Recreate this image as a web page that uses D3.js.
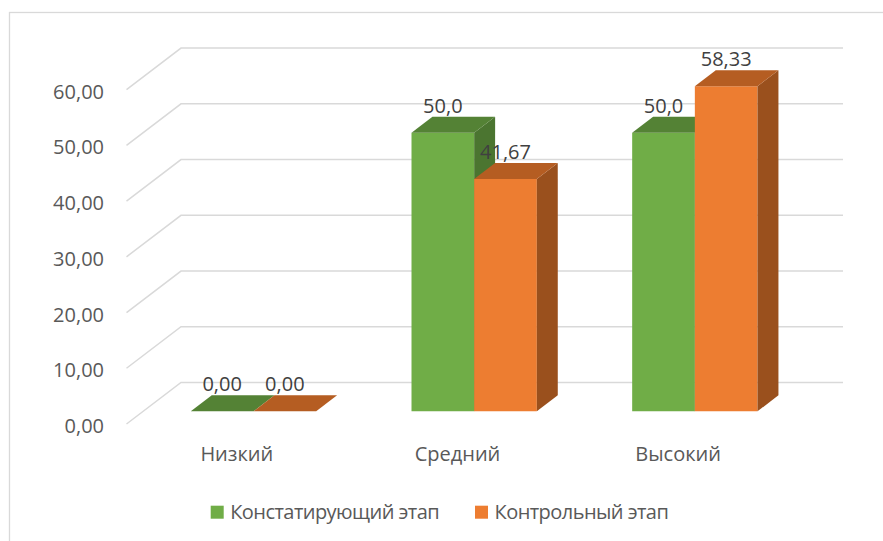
<!DOCTYPE html>
<html>
<head>
    <meta charset="utf-8">
    <title>Уровни по этапам</title>
    <script src="https://d3js.org/d3.v7.min.js"></script>
    <style>
        body { margin: 0; background: #fff; }
        text { font-family: "Open Sans", sans-serif; fill: #595959; }
    </style>
</head>
<body>
<svg id="chart" width="883" height="541"></svg>

<script>
    var categories = ["Низкий", "Средний", "Высокий"];
    var seriesNames = ["Констатирующий этап", "Контрольный этап"];
    var stage1 = [0, 50, 50];
    var stage2 = [0, 41.67, 58.33];
    var labels1 = ["0,00", "50,0", "50,0"];
    var labels2 = ["0,00", "41,67", "58,33"];
    var yTicks = [0, 10, 20, 30, 40, 50, 60];

    var colors = [
        { front: "#70ad47", top: "#548235", side: "#4b7530" },
        { front: "#ed7d31", top: "#b55d22", side: "#9a501d" }
    ];

    var svg = d3.select("#chart");

    // oblique depth: one unit of z moves the point by (DX, DY)
    var DX = 54.5, DY = -41.5;
    var zFront = 0.306, zBack = 0.69;

    var y = d3.scaleLinear().domain([0, 60]).range([424, 89.6]);
    var x = d3.scaleBand().domain(categories).range([126.5, 788.5])
        .paddingInner(0.432).paddingOuter(0.216);
    var xs = d3.scaleBand().domain(seriesNames).range([0, x.bandwidth()]);

    function proj(px, v, z) {
        return [px + z * DX, y(v) + z * DY];
    }
    function poly(pts) {
        return "M" + pts.join("L") + "Z";
    }
    var fmt = function(v) { return d3.format(".2f")(v).replace(".", ","); };

    // chart border
    svg.append("rect")
        .attr("x", 9.5).attr("y", 12.5)
        .attr("width", 900).attr("height", 600)
        .style("fill", "none")
        .style("stroke", "#d9d9d9")
        .style("stroke-width", 1.3);

    // gridlines on floor edge + back wall
    svg.append("g")
        .selectAll("path")
        .data(yTicks)
        .enter().append("path")
        .attr("d", function(d) {
            var a = proj(x.range()[0], d, 0);
            var b = proj(x.range()[0], d, 1);
            var c = proj(x.range()[1], d, 1);
            return "M" + a + "L" + b + "L" + c;
        })
        .style("fill", "none")
        .style("stroke", "#d9d9d9")
        .style("stroke-width", 1.5);

    svg.append("g")
        .selectAll("text")
        .data(yTicks)
        .enter().append("text")
        .attr("x", 104)
        .attr("y", function(d) { return y(d) + 9; })
        .attr("text-anchor", "end")
        .style("font-size", "20px")
        .text(fmt);

    // bars
    var series = [stage1, stage2];
    var seriesLabels = [labels1, labels2];
    var bars = svg.append("g");

    categories.forEach(function(cat, ci) {
        series.forEach(function(vals, si) {
            var v = vals[ci];
            var x0 = x(cat) + xs(seriesNames[si]);
            var x1 = x0 + xs.bandwidth();
            var col = colors[si];
            var g = bars.append("g");

            if (v > 0) {
                g.append("path")
                    .attr("d", poly([proj(x0, 0, zFront), proj(x1, 0, zFront), proj(x1, v, zFront), proj(x0, v, zFront)]))
                    .style("fill", col.front);
                g.append("path")
                    .attr("d", poly([proj(x1, 0, zFront), proj(x1, 0, zBack), proj(x1, v, zBack), proj(x1, v, zFront)]))
                    .style("fill", col.side);
            }
            g.append("path")
                .attr("d", poly([proj(x0, v, zFront), proj(x1, v, zFront), proj(x1, v, zBack), proj(x0, v, zBack)]))
                .style("fill", col.top);
        });
    });

    // data labels
    categories.forEach(function(cat, ci) {
        series.forEach(function(vals, si) {
            var v = vals[ci];
            var xc = x(cat) + xs(seriesNames[si]) + xs.bandwidth() / 2;
            var p = proj(xc, v, zFront);
            var q = proj(xc, v, zBack);
            svg.append("text")
                .attr("x", p[0])
                .attr("y", q[1] - 4)
                .attr("text-anchor", "middle")
                .style("font-size", "20px")
                .style("fill", "#404040")
                .text(seriesLabels[si][ci]);
        });
    });

    // category labels
    svg.append("g")
        .selectAll("text")
        .data(categories)
        .enter().append("text")
        .attr("x", function(d) { return x(d) + x.bandwidth() / 2; })
        .attr("y", 460.7)
        .attr("text-anchor", "middle")
        .style("font-size", "20px")
        .text(function(d) { return d; });

    // legend
    var legendX = [210.7, 475];
    var legend = svg.append("g");
    seriesNames.forEach(function(name, i) {
        legend.append("rect")
            .attr("x", legendX[i]).attr("y", 505.7)
            .attr("width", 13).attr("height", 13)
            .style("fill", colors[i].front);
        legend.append("text")
            .attr("x", legendX[i] + 19.5)
            .attr("y", 519)
            .style("font-size", "20px")
            .style("letter-spacing", "-0.55px")
            .text(name);
    });
</script>
</body>
</html>
